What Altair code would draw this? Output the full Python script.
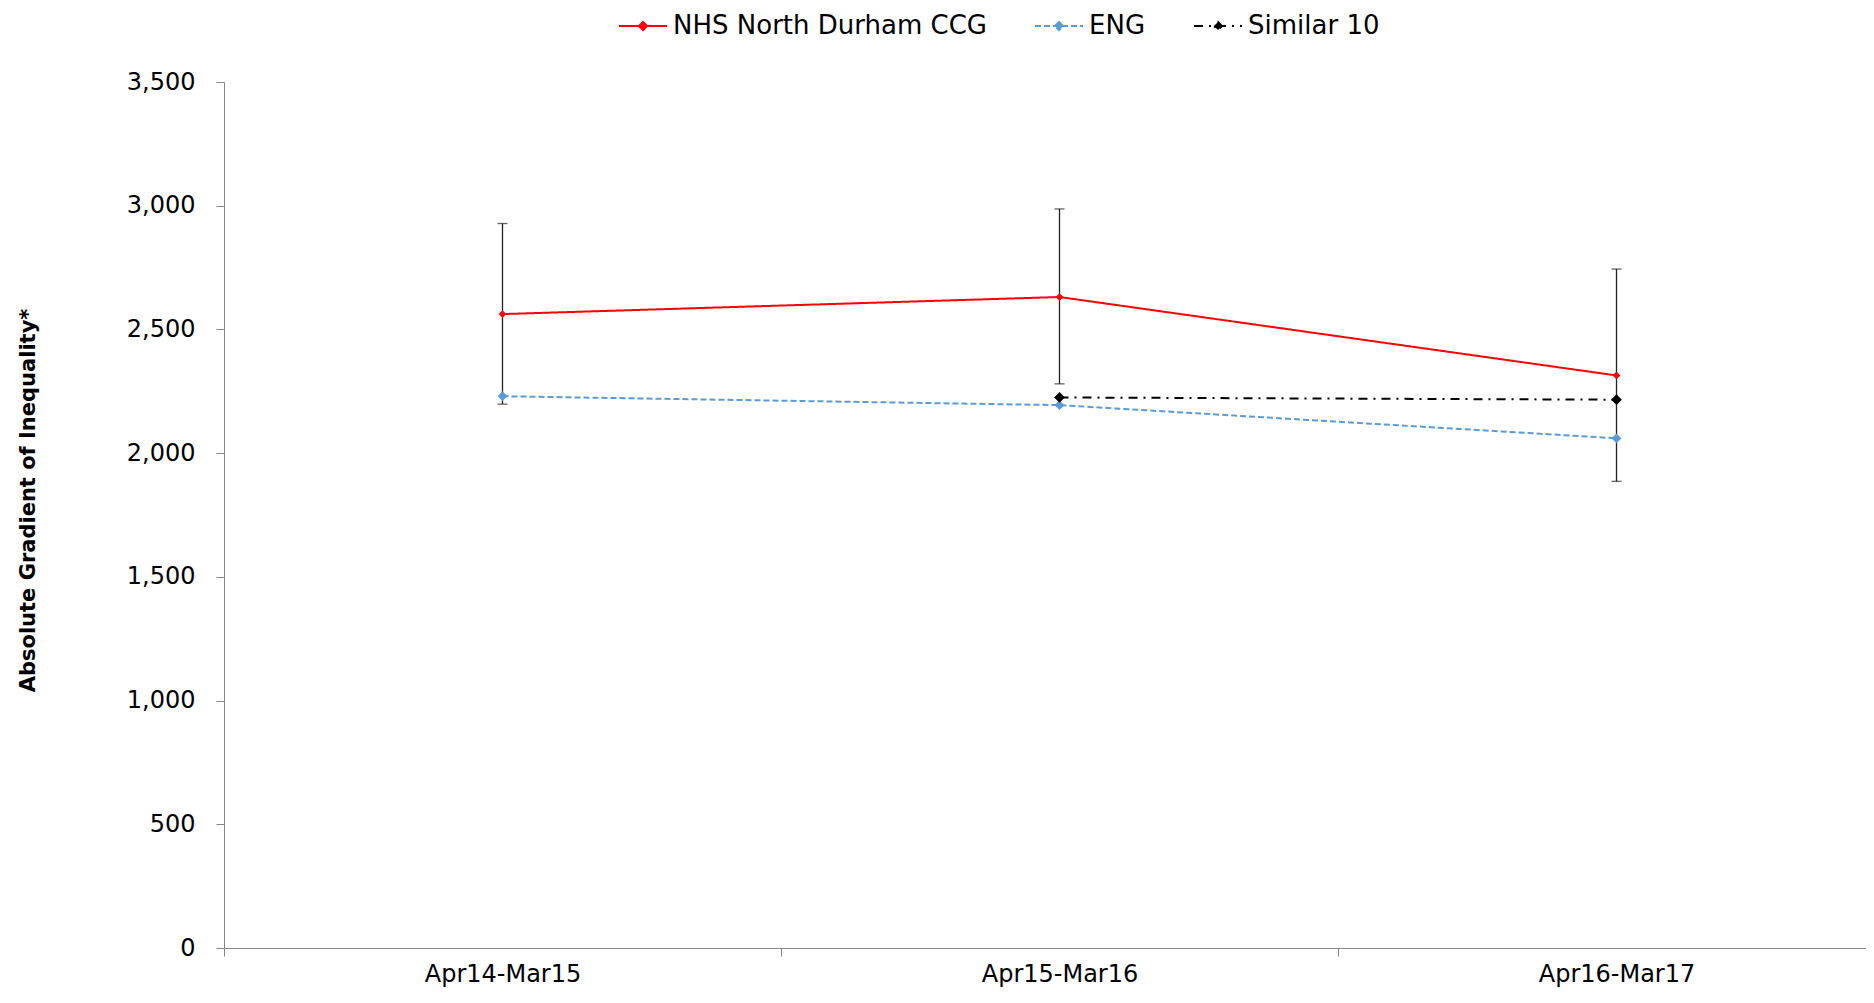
import altair as alt
import pandas as pd

periods = ["Apr14-Mar15", "Apr15-Mar16", "Apr16-Mar17"]
series_names = ["NHS North Durham CCG", "ENG", "Similar 10"]

nhs_values = [2562, 2631, 2314]
nhs_lower = [2198, 2280, 1886]
nhs_upper = [2928, 2987, 2744]
eng_values = [2230, 2194, 2060]
similar_periods = ["Apr15-Mar16", "Apr16-Mar17"]
similar_values = [2225, 2216]

series_colors = ["#FF0000", "#5B9BD5", "#000000"]
series_dashes = [[1, 0], [6, 3], [9, 6, 2, 6]]
series_sizes = [60, 95, 115]

rows = []
for p, v in zip(periods, nhs_values):
    rows.append({"series": series_names[0], "period": p, "value": v})
for p, v in zip(periods, eng_values):
    rows.append({"series": series_names[1], "period": p, "value": v})
for p, v in zip(similar_periods, similar_values):
    rows.append({"series": series_names[2], "period": p, "value": v})
lines_df = pd.DataFrame(rows)

err_df = pd.DataFrame({"period": periods, "lo": nhs_lower, "hi": nhs_upper})

FONT = "DejaVu Sans"

x_enc = alt.X(
    "period:N",
    sort=periods,
    scale=alt.Scale(domain=periods, paddingInner=0, paddingOuter=0, range=[0, 1671]),
    axis=alt.Axis(
        title=None,
        labelAngle=0,
        tickBand="extent",
        tickSize=8,
        labelPadding=6,
        labelFont=FONT,
        labelFontSize=24,
        labelColor="#000000",
        domainColor="#868686",
        tickColor="#868686",
        grid=False,
    ),
)

y_scale = alt.Scale(domain=[0, 3500], nice=False, zero=True)
y_axis = alt.Axis(
    title="Absolute Gradient of Inequality*",
    values=[0, 500, 1000, 1500, 2000, 2500, 3000, 3500],
    format=",.0f",
    tickSize=8,
    labelPadding=21,
    labelFont=FONT,
    labelFontSize=24,
    labelColor="#000000",
    domainColor="#868686",
    tickColor="#868686",
    grid=False,
    titleFont=FONT,
    titleFontSize=21,
    titleFontWeight="bold",
    titleColor="#000000",
    titlePadding=88,
    titleY=418,
)

legend_def = alt.Legend(
    title=None,
    orient="none",
    direction="horizontal",
    legendX=394,
    legendY=-81,
    symbolType="M-1,0L1,0M0,-0.17L0.17,0L0,0.17L-0.17,0Z",
    symbolSize=2304,
    symbolStrokeWidth=2,
    labelFont=FONT,
    labelFontSize=26,
    labelColor="#000000",
    labelOffset=5,
    labelLimit=0,
    columnPadding=44,
    padding=0,
)

color_enc = alt.Color(
    "series:N",
    scale=alt.Scale(domain=series_names, range=series_colors),
    legend=legend_def,
)
dash_enc = alt.StrokeDash(
    "series:N",
    scale=alt.Scale(domain=series_names, range=series_dashes),
    legend=legend_def,
)

err_rule = alt.Chart(err_df).mark_rule(color="#222222", strokeWidth=1.3).encode(
    x=x_enc, y=alt.Y("lo:Q", scale=y_scale, axis=y_axis), y2="hi:Q"
)
err_lo = alt.Chart(err_df).mark_tick(color="#222222", thickness=1.3, size=10, orient="horizontal").encode(
    x=x_enc, y=alt.Y("lo:Q", scale=y_scale, axis=y_axis)
)
err_hi = alt.Chart(err_df).mark_tick(color="#222222", thickness=1.3, size=10, orient="horizontal").encode(
    x=x_enc, y=alt.Y("hi:Q", scale=y_scale, axis=y_axis)
)

base = alt.Chart(lines_df)

lines = base.mark_line(strokeWidth=2).encode(
    x=x_enc,
    y=alt.Y("value:Q", scale=y_scale, axis=y_axis),
    color=color_enc,
    strokeDash=dash_enc,
    detail="series:N",
)

point_layers = []
for name, sz in zip(series_names, series_sizes):
    point_layers.append(
        base.transform_filter(alt.datum.series == name)
        .mark_point(shape="diamond", filled=True, opacity=1, size=sz)
        .encode(
            x=x_enc,
            y=alt.Y("value:Q", scale=y_scale, axis=y_axis),
            color=color_enc,
        )
    )

chart = (
    alt.layer(err_rule, err_lo, err_hi, lines, *point_layers)
    .properties(
        width=1642,
        height=866,
        autosize=alt.AutoSizeParams(type="none"),
        padding={"left": 216, "top": 74, "right": 0, "bottom": 43},
        view=alt.ViewBackground(stroke="transparent", strokeWidth=0, strokeOpacity=0),
    )
    .configure_view(stroke="transparent", strokeWidth=0, strokeOpacity=0)
    .configure_axis(grid=False)
    .configure(background="#FFFFFF")
)

chart.save("out.html", embed_options={"renderer": "svg", "actions": False})
